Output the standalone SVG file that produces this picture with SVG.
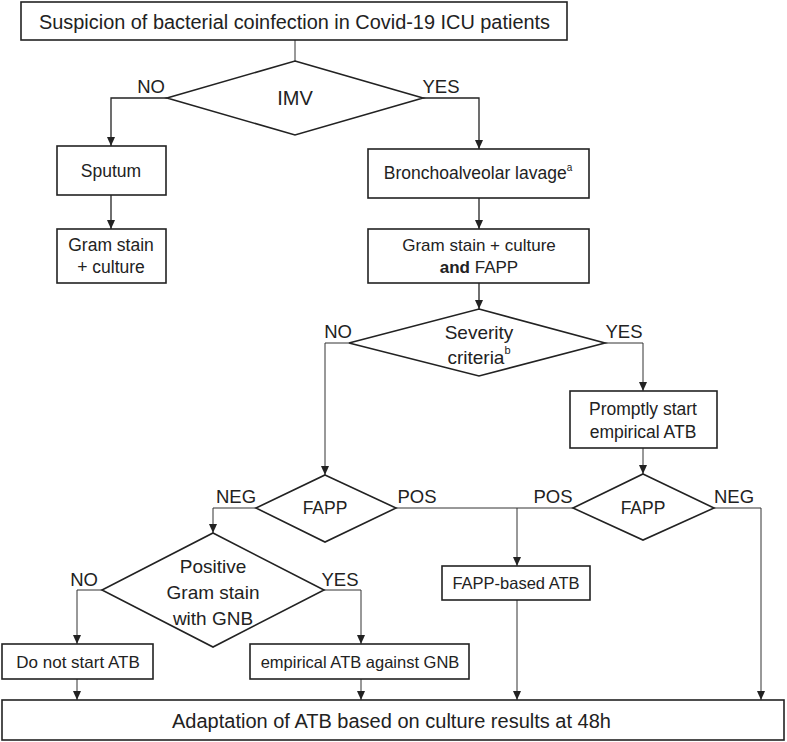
<svg xmlns="http://www.w3.org/2000/svg" width="787" height="742" viewBox="0 0 787 742">
<style>
.box{fill:#fff;stroke:#222;stroke-width:1.6}
.t{font-family:"Liberation Sans",Arial,sans-serif;fill:#222;text-anchor:middle;dominant-baseline:central}
.lbl{font-family:"Liberation Sans",Arial,sans-serif;font-size:18.5px;fill:#222;text-anchor:middle}
.c{fill:none;stroke:#222;stroke-width:1.3}
.c2{fill:none;stroke:#333;stroke-width:1}
</style>
<defs>
<marker id="ah" markerWidth="10" markerHeight="10" refX="9" refY="5" orient="auto" markerUnits="userSpaceOnUse">
<path d="M0,1 L9,5 L0,9 Z" fill="#222"/>
</marker>
</defs>
<g id="connectors">
<path class="c2" d="M295,40 V61"/>
<path class="c" d="M167,98 H111 V146" marker-end="url(#ah)"/>
<path class="c" d="M423,98 H479 V149" marker-end="url(#ah)"/>
<path class="c" d="M111,195 V229" marker-end="url(#ah)"/>
<path class="c" d="M479,198 V229" marker-end="url(#ah)"/>
<path class="c" d="M479,283 V309" marker-end="url(#ah)"/>
<path class="c2" d="M349,343 H325 V475" marker-end="url(#ah)"/>
<path class="c2" d="M605,343 H643 V391" marker-end="url(#ah)"/>
<path class="c2" d="M643,448 V474" marker-end="url(#ah)"/>
<path class="c2" d="M256,508 H213 V533" marker-end="url(#ah)"/>
<path class="c2" d="M396,508 H573"/>
<path class="c2" d="M517,508 V566" marker-end="url(#ah)"/>
<path class="c2" d="M714,508 H761 V700" marker-end="url(#ah)"/>
<path class="c2" d="M517,600 V700" marker-end="url(#ah)"/>
<path class="c2" d="M102,590 H77 V644" marker-end="url(#ah)"/>
<path class="c2" d="M324,590 H361 V644" marker-end="url(#ah)"/>
<path class="c2" d="M77,679 V700" marker-end="url(#ah)"/>
<path class="c2" d="M361,679 V700" marker-end="url(#ah)"/>
<text class="lbl" x="151" y="93">NO</text>
<text class="lbl" x="441" y="93">YES</text>
<text class="lbl" x="338" y="338">NO</text>
<text class="lbl" x="624" y="338">YES</text>
<text class="lbl" x="236" y="503">NEG</text>
<text class="lbl" x="417" y="503">POS</text>
<text class="lbl" x="553" y="503">POS</text>
<text class="lbl" x="734" y="503">NEG</text>
<text class="lbl" x="84" y="586">NO</text>
<text class="lbl" x="340" y="586">YES</text>
</g>
<g id="n-start">
<rect class="box" x="21" y="2" width="546" height="38"/>
<text class="t" x="294.5" y="22" style="font-size:19.5px" textLength="511" lengthAdjust="spacingAndGlyphs">Suspicion of bacterial coinfection in Covid-19 ICU patients</text>
</g>
<g id="n-imv">
<polygon class="box" points="295,61 423,98 295,135 167,98"/>
<text class="t" x="295" y="98" style="font-size:20px">IMV</text>
</g>
<g id="n-sputum">
<rect class="box" x="57" y="146" width="109" height="49"/>
<text class="t" x="111" y="171" style="font-size:17.5px">Sputum</text>
</g>
<g id="n-gram1">
<rect class="box" x="57" y="229" width="109" height="54"/>
<text class="t" x="111" y="245" style="font-size:17.5px">Gram stain</text>
<text class="t" x="111" y="267" style="font-size:17.5px">+ culture</text>
</g>
<g id="n-bal">
<rect class="box" x="368" y="149" width="221" height="49"/>
<text class="t" x="478" y="173" style="font-size:17.5px">Bronchoalveolar lavage<tspan style="font-size:10px" dy="-6">a</tspan></text>
</g>
<g id="n-gram2">
<rect class="box" x="368" y="229" width="221" height="54"/>
<text class="t" x="479" y="245" style="font-size:17px">Gram stain + culture</text>
<text class="t" x="479" y="267" style="font-size:17px"><tspan font-weight="bold">and</tspan> FAPP</text>
</g>
<g id="n-severity">
<polygon class="box" points="479,309 605,343 479,376 349,343"/>
<text class="t" x="479" y="332" style="font-size:19px">Severity</text>
<text class="t" x="479" y="357" style="font-size:19px">criteria<tspan style="font-size:11px" dy="-7">b</tspan></text>
</g>
<g id="n-promptly">
<rect class="box" x="570" y="391" width="147" height="57"/>
<text class="t" x="643" y="409" style="font-size:17.5px">Promptly start</text>
<text class="t" x="643" y="432" style="font-size:17.5px">empirical ATB</text>
</g>
<g id="n-fapp1">
<polygon class="box" points="325,475 396,508 325,542 256,508"/>
<text class="t" x="325" y="508" style="font-size:17.5px">FAPP</text>
</g>
<g id="n-fapp2">
<polygon class="box" points="643,474 714,508 643,540 573,508"/>
<text class="t" x="643" y="508" style="font-size:17.5px">FAPP</text>
</g>
<g id="n-gramgnb">
<polygon class="box" points="213,533 324,590 213,647 102,590"/>
<text class="t" x="213" y="566" style="font-size:19px">Positive</text>
<text class="t" x="213" y="592" style="font-size:19px">Gram stain</text>
<text class="t" x="213" y="618" style="font-size:19px">with GNB</text>
</g>
<g id="n-fappatb">
<rect class="box" x="442" y="566" width="148" height="34"/>
<text class="t" x="516" y="583" style="font-size:16.5px">FAPP-based ATB</text>
</g>
<g id="n-nostart">
<rect class="box" x="2" y="644" width="151" height="35"/>
<text class="t" x="78" y="662" style="font-size:17px">Do not start ATB</text>
</g>
<g id="n-empgnb">
<rect class="box" x="250" y="644" width="219" height="35"/>
<text class="t" x="360" y="662" style="font-size:16.5px">empirical ATB against GNB</text>
</g>
<g id="n-adapt">
<rect class="box" x="2" y="700" width="782" height="40"/>
<text class="t" x="391.5" y="721" style="font-size:20px" textLength="439" lengthAdjust="spacingAndGlyphs">Adaptation of ATB based on culture results at 48h</text>
</g>
</svg>
